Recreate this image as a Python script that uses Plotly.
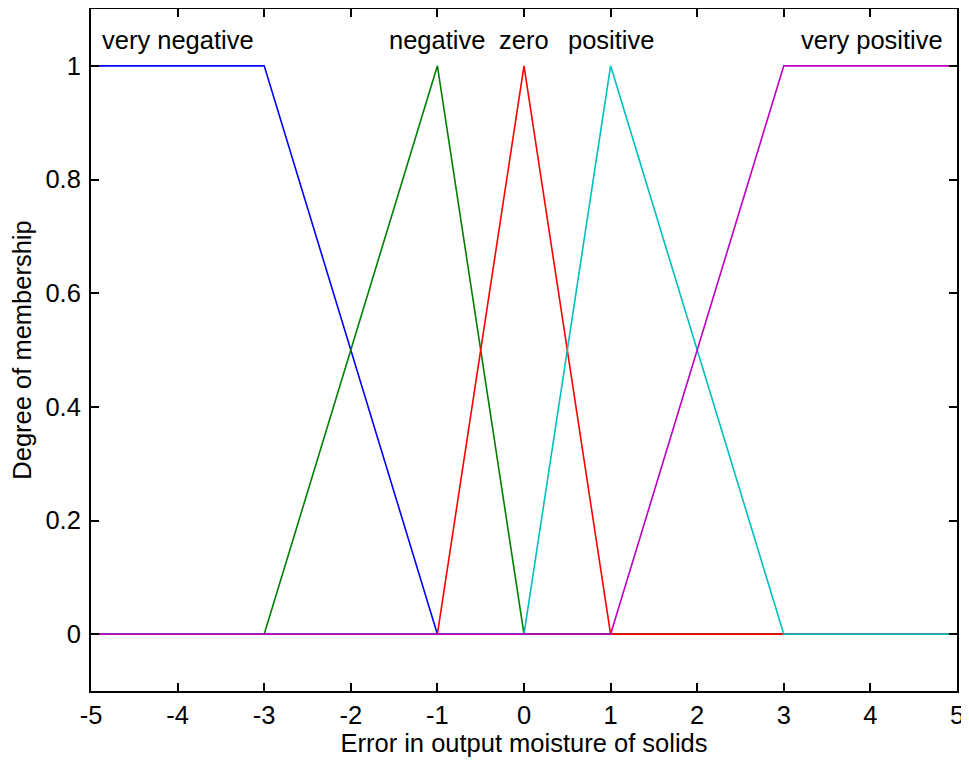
import plotly.graph_objects as go

# membership functions: breakpoints (x) and degrees (y)
x_range = [-5, 5]
very_negative_x = [-5, -3, -1, 5]
very_negative_y = [1, 1, 0, 0]
negative_x = [-5, -3, -1, 0, 5]
negative_y = [0, 0, 1, 0, 0]
zero_x = [-5, -1, 0, 1, 5]
zero_y = [0, 0, 1, 0, 0]
positive_x = [-5, 0, 1, 3, 5]
positive_y = [0, 0, 1, 0, 0]
very_positive_x = [-5, 1, 3, 5]
very_positive_y = [0, 0, 1, 1]

mf_names = ["very negative", "negative", "zero", "positive", "very positive"]
label_x = [-4.0, -1, 0, 1, 4.02]
label_y = 1.045

xticks = [-5, -4, -3, -2, -1, 0, 1, 2, 3, 4, 5]
yticks = [0, 0.2, 0.4, 0.6, 0.8, 1]

colors = ["#0000ff", "#008000", "#ff0000", "#00bfbf", "#bf00bf"]
series = [(very_negative_x, very_negative_y), (negative_x, negative_y),
          (zero_x, zero_y), (positive_x, positive_y),
          (very_positive_x, very_positive_y)]

fs = 25.5
fig = go.Figure()
for (xs, ys), c, n in zip(series, colors, mf_names):
    fig.add_trace(go.Scatter(x=xs, y=ys, mode='lines', name=n,
                             line=dict(color=c, width=1.6)))

for n, lx in zip(mf_names, label_x):
    fig.add_annotation(x=lx, y=label_y, text=n, showarrow=False,
                       xanchor='center', yanchor='middle',
                       font=dict(size=fs, color='black'))

# page body has an 8px margin, so the figure is a bit smaller than the window
font = dict(family="Liberation Sans, Arial, sans-serif", size=fs, color='black')
fig.update_layout(
    width=961, height=758,
    margin=dict(l=83, r=12, t=1, b=75),
    paper_bgcolor='white', plot_bgcolor='white',
    showlegend=False,
    font=font,
)
fig.update_xaxes(range=x_range, tickvals=xticks, ticktext=[str(v) for v in xticks],
                 showgrid=False, zeroline=False, showline=True, mirror='ticks',
                 linecolor='black', linewidth=2, ticks='inside', ticklen=8,
                 tickwidth=1.5, tickcolor='black', automargin=False,
                 title=dict(text='Error in output moisture of solids', standoff=4,
                            font=dict(size=fs)))
fig.update_yaxes(range=[-0.1, 1.1], tickvals=yticks,
                 ticktext=['0', '0.2', '0.4', '0.6', '0.8', '1'],
                 showgrid=False, zeroline=False, showline=True, mirror='ticks',
                 linecolor='black', linewidth=2, ticks='inside', ticklen=8,
                 tickwidth=1.5, tickcolor='black', automargin=False,
                 ticklabelstandoff=3,
                 title=dict(text='Degree of membership', standoff=10,
                            font=dict(size=fs)))

fig.write_html("out.html")
